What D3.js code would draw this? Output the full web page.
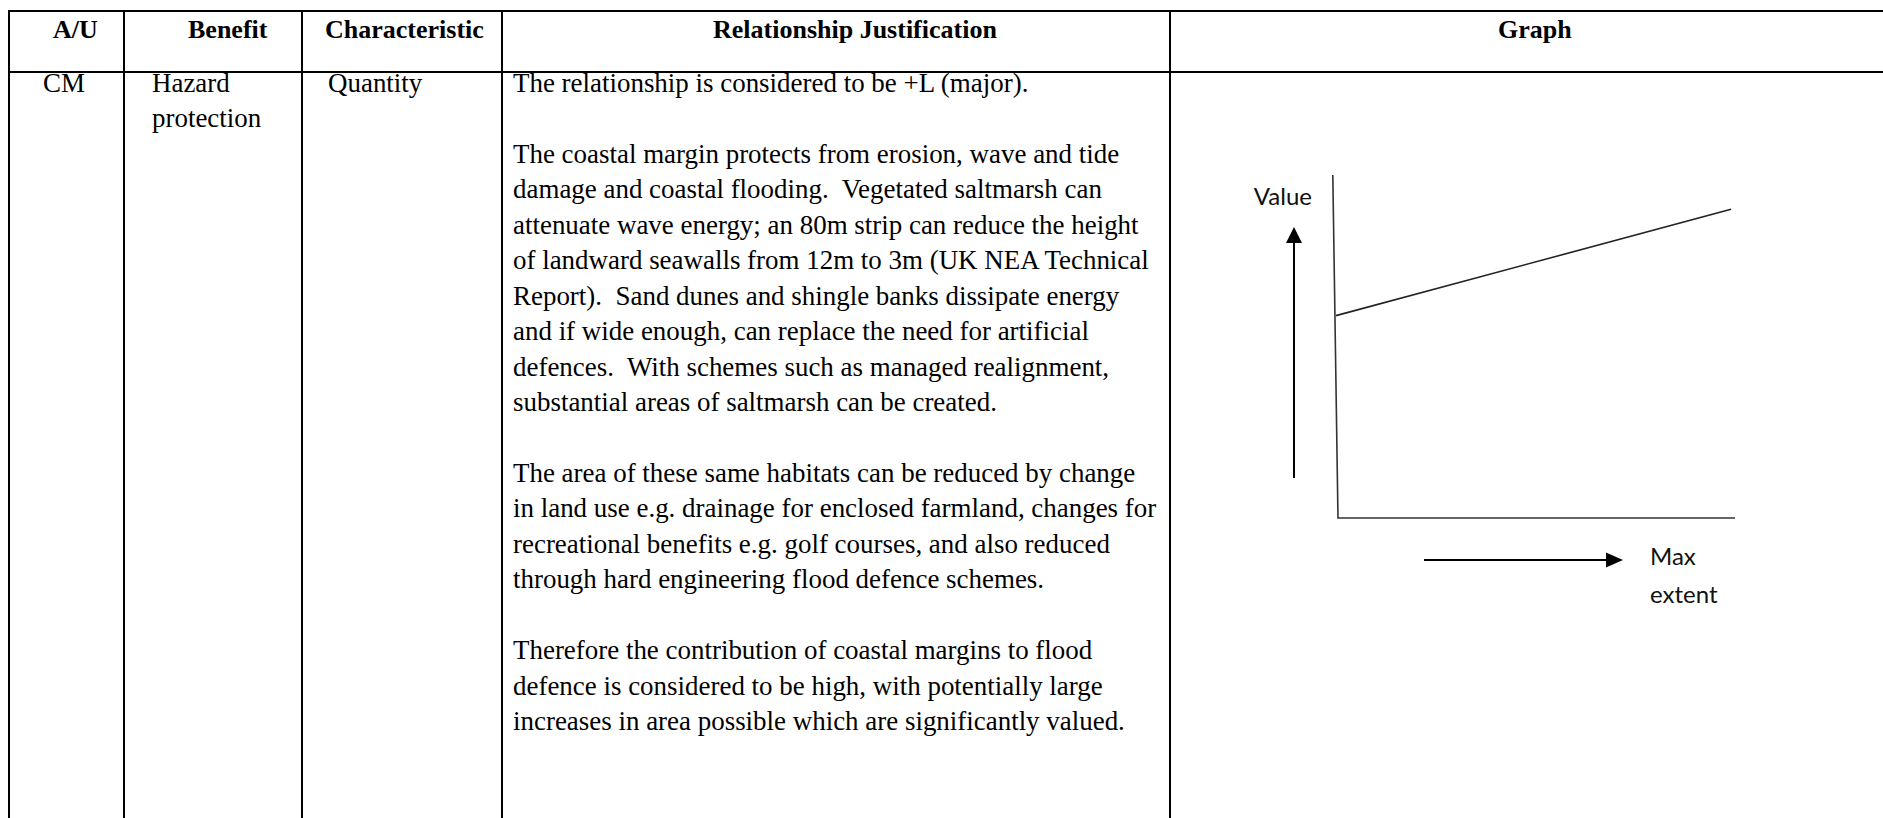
<!DOCTYPE html>
<html><head><meta charset="utf-8">
<script src="https://cdnjs.cloudflare.com/ajax/libs/d3/7.8.5/d3.min.js"></script>
<style>html,body{margin:0;padding:0;background:#fff;overflow:hidden}</style>
</head><body><svg id="c" width="1883" height="818"></svg>
<script>
// ---- data ----
const headers = ["A/U", "Benefit", "Characteristic", "Relationship Justification", "Graph"];
const rowCells = [["CM"], ["Hazard", "protection"], ["Quantity"]];
const justification = [
  "The relationship is considered to be +L (major).",
  "",
  "The coastal margin protects from erosion, wave and tide",
  "damage and coastal flooding.  Vegetated saltmarsh can",
  "attenuate wave energy; an 80m strip can reduce the height",
  "of landward seawalls from 12m to 3m (UK NEA Technical",
  "Report).  Sand dunes and shingle banks dissipate energy",
  "and if wide enough, can replace the need for artificial",
  "defences.  With schemes such as managed realignment,",
  "substantial areas of saltmarsh can be created.",
  "",
  "The area of these same habitats can be reduced by change",
  "in land use e.g. drainage for enclosed farmland, changes for",
  "recreational benefits e.g. golf courses, and also reduced",
  "through hard engineering flood defence schemes.",
  "",
  "Therefore the contribution of coastal margins to flood",
  "defence is considered to be high, with potentially large",
  "increases in area possible which are significantly valued."
];
const graphX = [0, 0.99];
const graphValues = [0.59, 0.90];
const yLabel = "Value";
const xLabel = ["Max", "extent"];

// ---- layout ----
const colEdges = [9, 124, 302, 502, 1170, 1905];
const rowEdges = [11, 72, 830];
const headerX = [53, 188, 325, 713, 1498];
const cellX = [43, 152, 328, 513];
const headerBase = 38;
const bodyBase = 92;
const lineH = 35.45;
const bodySize = 26.95;

const svg = d3.select("#c");
const serif = "'Liberation Serif','Times New Roman',serif";

// table grid
const g = svg.append("g");
g.selectAll("line.h").data(rowEdges.slice(0, 2)).join("line")
  .attr("x1", colEdges[0] - 1).attr("x2", colEdges[colEdges.length - 1])
  .attr("y1", d => d).attr("y2", d => d)
  .attr("stroke", "#000").attr("stroke-width", 2);
g.selectAll("line.v").data(colEdges).join("line")
  .attr("x1", d => d).attr("x2", d => d)
  .attr("y1", rowEdges[0] - 1).attr("y2", rowEdges[2])
  .attr("stroke", "#000").attr("stroke-width", 2);

// headers
g.selectAll("text.hd").data(headers).join("text")
  .attr("x", (d, i) => headerX[i]).attr("y", headerBase)
  .attr("font-family", serif).attr("font-weight", "bold").attr("font-size", 26)
  .attr("fill", "#000").text(d => d);

// row cells
rowCells.forEach((lines, ci) => {
  g.selectAll(null).data(lines).join("text")
    .attr("x", cellX[ci]).attr("y", (d, i) => bodyBase + i * lineH)
    .attr("font-family", serif).attr("font-size", bodySize).attr("fill", "#000")
    .text(d => d);
});
g.selectAll(null).data(justification).join("text")
  .attr("x", cellX[3]).attr("y", (d, i) => bodyBase + i * lineH)
  .attr("font-family", serif).attr("font-size", bodySize).attr("fill", "#000")
  .attr("xml:space", "preserve").style("white-space", "pre")
  .text(d => d);

// ---- graph ----
const x = d3.scaleLinear().domain([0, 1]).range([1336, 1735]);
const y = d3.scaleLinear().domain([0, 1]).range([518, 175]);
const gr = svg.append("g");
const line = d3.line().x(d => x(d[0])).y(d => y(d[1]));
// axes (y axis slightly slanted as in the sketch)
gr.append("path").attr("d", line([[-0.008, 1], [0.005, 0], [1.0, 0]]))
  .attr("fill", "none").attr("stroke", "#333").attr("stroke-width", 1.6);
// trend line
gr.append("path").attr("d", line(graphX.map((v, i) => [v, graphValues[i]])))
  .attr("fill", "none").attr("stroke", "#222").attr("stroke-width", 1.6);

// up arrow
const ax = 1294;
gr.append("line").attr("x1", ax).attr("x2", ax).attr("y1", 478).attr("y2", 240)
  .attr("stroke", "#000").attr("stroke-width", 2);
gr.append("path").attr("d", `M${ax},227 L${ax - 8},243 L${ax + 8},243 Z`).attr("fill", "#000");
// right arrow
const ay = 560;
gr.append("line").attr("x1", 1424).attr("x2", 1610).attr("y1", ay).attr("y2", ay)
  .attr("stroke", "#000").attr("stroke-width", 2);
gr.append("path").attr("d", `M1623,${ay} L1606,${ay - 7.5} L1606,${ay + 7.5} Z`).attr("fill", "#000");

const sans = "Lato, 'Open Sans', sans-serif";
gr.append("text").attr("x", 1312).attr("y", 205).attr("text-anchor", "end")
  .attr("font-family", sans).attr("font-size", 24).attr("fill", "#111").text(yLabel);
gr.selectAll(null).data(xLabel).join("text")
  .attr("x", 1650).attr("y", (d, i) => 565 + i * 38)
  .attr("font-family", sans).attr("font-size", 24).attr("fill", "#111").text(d => d);
</script>
</body></html>
